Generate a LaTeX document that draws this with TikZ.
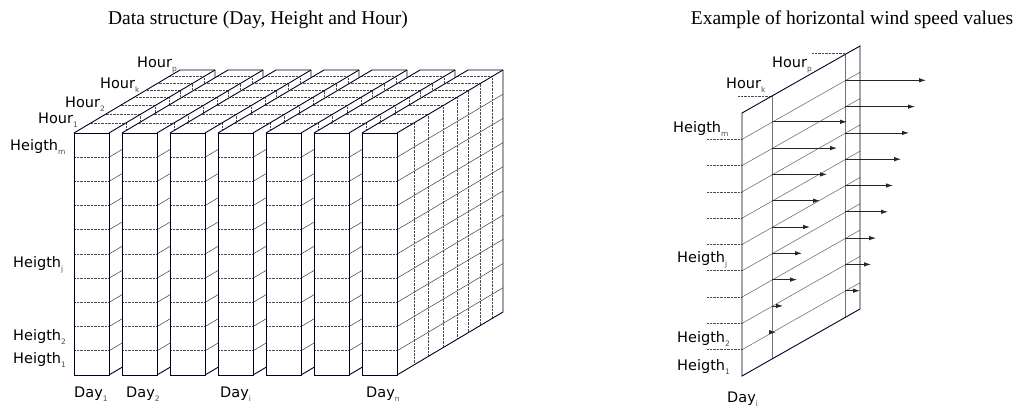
\documentclass[tikz,border=0pt]{standalone}
\usepackage{fontspec}
\setmainfont{Liberation Serif}
\newfontfamily\lblfont{DejaVu Sans}
\usetikzlibrary{arrows.meta}
\newcommand\lsub[1]{\raisebox{-4.5pt}{\fontsize{7.5}{7.5}\selectfont\color{black!70}#1}}
\tikzset{
  edge/.style={line width=0.9pt, draw=black!85!blue},
  dotline/.style={line width=0.7pt, draw=black!70, dash pattern=on 0.7pt off 0.7pt},
  thinline/.style={line width=0.5pt, draw=black!75},
  grayline/.style={line width=0.6pt, draw=black!55},
  lbl/.style={font=\lblfont\fontsize{14.5}{14.5}\selectfont, inner sep=0pt, anchor=base west},
  ttl/.style={font=\fontsize{19.5}{19.5}\selectfont, inner sep=0pt, anchor=base},
  wind/.style={line width=0.8pt, draw=black!85, -{Latex[length=7pt,width=4.5pt]}},
}
\begin{document}
\begin{tikzpicture}[x=1pt,y=-1pt]
\useasboundingbox (0,0) rectangle (1032,407);
% titles
\node[ttl] (t1) at (258,24) {Data structure (Day, Height and Hour)};
\node[ttl] (t2) at (852,24) {Example of horizontal wind speed values};
% ---------------- left: slabs
\foreach \s in {0,...,6}{
  \pgfmathsetmacro\xa{74+48*\s}
  \pgfmathsetmacro\xb{\xa+35}
  \fill[white] (\xa,375) -- (\xa,133) -- (\xa+106,70) -- (\xb+106,70) -- (\xb+106,312) -- (\xb,375) -- cycle;
  \foreach \r in {1,...,9}{
    \draw[dotline] (\xa,133+24.2*\r) -- (\xb,133+24.2*\r);
    \draw[thinline] (\xb,133+24.2*\r) -- (\xb+106,70+24.2*\r);
  }
  \foreach \f in {0.159,0.299,0.439,0.570,0.673,0.785,0.897}{
    \draw[dotline] (\xb+106*\f,133-63*\f) -- (\xb+106*\f,375-63*\f);
    \draw[dotline] (\xa+106*\f,133-63*\f) -- (\xb+106*\f,133-63*\f);
  }
  \draw[edge] (\xa,133) rectangle (\xb,375);
  \draw[edge] (\xa,133) -- (\xa+106,70) -- (\xb+106,70) -- (\xb+106,312) -- (\xb,375);
  \draw[edge] (\xb,133) -- (\xb+106,70);
}
% left labels
\node[lbl] (hp) at (137,67) {Hour\lsub{p}};
\node[lbl] (hk) at (100,88) {Hour\lsub{k}};
\node[lbl] (h2) at (65,107) {Hour\lsub{2}};
\node[lbl] (h1) at (38,123) {Hour\lsub{1}};
\node[lbl] (gm) at (10,150) {Heigth\lsub{m}};
\node[lbl] (gj) at (13,267) {Heigth\lsub{j}};
\node[lbl] (g2) at (13,340) {Heigth\lsub{2}};
\node[lbl] (g1) at (13,363) {Heigth\lsub{1}};
\node[lbl] (d1) at (74,397) {Day\lsub{1}};
\node[lbl] (d2) at (126,397) {Day\lsub{2}};
\node[lbl] (di) at (220,397) {Day\lsub{i}};
\node[lbl] (dn) at (366,397) {Day\lsub{n}};
% ---------------- right: plane
\coordinate (pa) at (742,376);
\coordinate (pb) at (742,113);
\coordinate (pc) at (860,46);
\coordinate (pd) at (860,309);
\foreach \k in {1,...,9}{
  \draw[grayline] (742,113+26.3*\k) -- (860,46+26.3*\k);
  \draw[dotline] (707,113+26.3*\k) -- (742,113+26.3*\k);
}
\draw[grayline] (772,96) -- (772,359);
\draw[grayline] (845,54.5) -- (845,317.5);
\draw[dotline] (738,96) -- (772,96);
\draw[dotline] (812,53) -- (845,53);
\foreach \k/\lk/\lp in {1/75/81,2/65/70,3/55/64,4/48/56,5/38/48,6/30/43,7/25/31,8/11/26,9/4/15}{
  \draw[wind] (772,113+26.3*\k-17.5) -- ++(\lk,0);
  \draw[wind] (845,113+26.3*\k-59) -- ++(\lp,0);
}
\draw[edge] (pa) -- (pb) -- (pc) -- (pd) -- cycle;
% right labels
\node[lbl] (rhp) at (772,67) {Hour\lsub{p}};
\node[lbl] (rhk) at (726,88) {Hour\lsub{k}};
\node[lbl] (rgm) at (673,132) {Heigth\lsub{m}};
\node[lbl] (rgj) at (677,262) {Heigth\lsub{j}};
\node[lbl] (rg2) at (677,342) {Heigth\lsub{2}};
\node[lbl] (rg1) at (677,370) {Heigth\lsub{1}};
\node[lbl] (rdi) at (727,402) {Day\lsub{i}};
\end{tikzpicture}
\end{document}
